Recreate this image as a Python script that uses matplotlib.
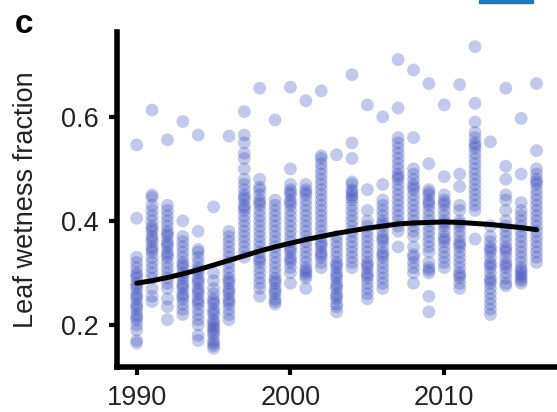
import matplotlib
matplotlib.use("Agg")
import matplotlib.pyplot as plt
from matplotlib.patches import Rectangle

plt.rcParams['font.family'] = ['Liberation Sans', 'DejaVu Sans']

lwf_1990 = [0.546, 0.405, 0.33, 0.32, 0.31, 0.30, 0.295, 0.29, 0.28, 0.275, 0.27, 0.26, 0.255, 0.25,
            0.24, 0.235, 0.23, 0.22, 0.215, 0.21, 0.20, 0.19, 0.17, 0.165]
lwf_1991 = [0.613, 0.45, 0.445, 0.43, 0.42, 0.41, 0.40, 0.39, 0.385, 0.38, 0.37, 0.365, 0.36, 0.35,
            0.345, 0.34, 0.33, 0.32, 0.31, 0.30, 0.29, 0.27, 0.255, 0.245]
lwf_1992 = [0.556, 0.43, 0.42, 0.41, 0.40, 0.39, 0.38, 0.375, 0.37, 0.36, 0.355, 0.35, 0.34, 0.335,
            0.33, 0.32, 0.31, 0.30, 0.29, 0.28, 0.27, 0.25, 0.235, 0.21]
lwf_1993 = [0.591, 0.40, 0.37, 0.36, 0.35, 0.34, 0.33, 0.32, 0.315, 0.31, 0.30, 0.295, 0.29, 0.28,
            0.275, 0.27, 0.26, 0.255, 0.25, 0.24, 0.23, 0.22]
lwf_1994 = [0.565, 0.38, 0.345, 0.34, 0.33, 0.32, 0.31, 0.305, 0.30, 0.29, 0.285, 0.28, 0.27, 0.265,
            0.26, 0.25, 0.245, 0.24, 0.23, 0.22, 0.21, 0.20, 0.18, 0.17]
lwf_1995 = [0.427, 0.30, 0.285, 0.27, 0.26, 0.25, 0.245, 0.24, 0.23, 0.225, 0.22, 0.21, 0.205, 0.20,
            0.195, 0.19, 0.185, 0.18, 0.17, 0.165, 0.16, 0.155]
lwf_1996 = [0.563, 0.38, 0.37, 0.36, 0.35, 0.34, 0.33, 0.32, 0.31, 0.30, 0.29, 0.285, 0.28, 0.27,
            0.265, 0.26, 0.25, 0.245, 0.24, 0.23, 0.22, 0.21]
lwf_1997 = [0.61, 0.565, 0.55, 0.53, 0.52, 0.50, 0.48, 0.47, 0.46, 0.45, 0.445, 0.44, 0.43, 0.425,
            0.42, 0.41, 0.40, 0.39, 0.38, 0.37, 0.36, 0.35, 0.34, 0.33]
lwf_1998 = [0.655, 0.48, 0.465, 0.46, 0.45, 0.44, 0.435, 0.43, 0.42, 0.41, 0.40, 0.39, 0.38, 0.37,
            0.36, 0.35, 0.34, 0.33, 0.325, 0.32, 0.31, 0.30, 0.29, 0.28, 0.27, 0.255]
lwf_1999 = [0.594, 0.44, 0.43, 0.42, 0.41, 0.40, 0.39, 0.38, 0.37, 0.36, 0.35, 0.34, 0.33, 0.32,
            0.31, 0.30, 0.29, 0.285, 0.28, 0.27, 0.265, 0.26, 0.25, 0.245, 0.24]
lwf_2000 = [0.657, 0.50, 0.47, 0.46, 0.455, 0.45, 0.44, 0.435, 0.43, 0.42, 0.41, 0.40, 0.39, 0.38,
            0.37, 0.36, 0.35, 0.345, 0.34, 0.33, 0.325, 0.32, 0.31, 0.30, 0.28]
lwf_2001 = [0.631, 0.47, 0.46, 0.455, 0.45, 0.44, 0.43, 0.42, 0.41, 0.40, 0.39, 0.38, 0.37, 0.36,
            0.35, 0.34, 0.33, 0.32, 0.31, 0.305, 0.30, 0.295, 0.29, 0.27]
lwf_2002 = [0.65, 0.525, 0.52, 0.51, 0.50, 0.49, 0.48, 0.47, 0.46, 0.45, 0.44, 0.43, 0.42, 0.41,
            0.40, 0.39, 0.38, 0.37, 0.36, 0.355, 0.35, 0.34, 0.335, 0.33, 0.32, 0.31]
lwf_2003 = [0.527, 0.37, 0.36, 0.35, 0.34, 0.33, 0.32, 0.315, 0.31, 0.30, 0.295, 0.29, 0.28, 0.275,
            0.27, 0.26, 0.255, 0.25, 0.24, 0.235, 0.225]
lwf_2004 = [0.681, 0.55, 0.52, 0.475, 0.47, 0.46, 0.455, 0.45, 0.445, 0.44, 0.43, 0.42, 0.41, 0.40,
            0.39, 0.38, 0.37, 0.36, 0.35, 0.34, 0.33, 0.32, 0.31]
lwf_2005 = [0.623, 0.46, 0.42, 0.40, 0.39, 0.38, 0.37, 0.36, 0.35, 0.34, 0.33, 0.32, 0.315, 0.31,
            0.30, 0.295, 0.29, 0.28, 0.27, 0.26, 0.25]
lwf_2006 = [0.60, 0.47, 0.44, 0.43, 0.42, 0.41, 0.40, 0.395, 0.39, 0.38, 0.37, 0.365, 0.36, 0.35,
            0.34, 0.335, 0.33, 0.32, 0.31, 0.30, 0.29, 0.28, 0.27]
lwf_2007 = [0.71, 0.617, 0.56, 0.55, 0.54, 0.53, 0.52, 0.51, 0.50, 0.49, 0.485, 0.48, 0.47, 0.46,
            0.45, 0.44, 0.43, 0.42, 0.41, 0.40, 0.39, 0.38, 0.35]
lwf_2008 = [0.69, 0.56, 0.50, 0.49, 0.48, 0.47, 0.465, 0.46, 0.45, 0.44, 0.43, 0.42, 0.41, 0.40,
            0.39, 0.38, 0.37, 0.35, 0.335, 0.33, 0.32, 0.31, 0.30, 0.28]
lwf_2009 = [0.664, 0.51, 0.46, 0.455, 0.45, 0.44, 0.435, 0.43, 0.42, 0.41, 0.40, 0.39, 0.38, 0.37,
            0.36, 0.35, 0.34, 0.32, 0.31, 0.305, 0.30, 0.255, 0.225]
lwf_2010 = [0.623, 0.485, 0.45, 0.44, 0.435, 0.43, 0.42, 0.41, 0.40, 0.395, 0.39, 0.38, 0.37, 0.365,
            0.36, 0.35, 0.34, 0.33, 0.32, 0.31]
lwf_2011 = [0.662, 0.49, 0.466, 0.43, 0.42, 0.40, 0.395, 0.39, 0.38, 0.37, 0.36, 0.355, 0.35, 0.34,
            0.33, 0.32, 0.31, 0.30, 0.295, 0.29, 0.28, 0.27]
lwf_2012 = [0.735, 0.626, 0.59, 0.57, 0.56, 0.55, 0.545, 0.54, 0.53, 0.52, 0.51, 0.50, 0.49, 0.48,
            0.47, 0.46, 0.45, 0.44, 0.43, 0.42, 0.365]
lwf_2013 = [0.552, 0.39, 0.37, 0.36, 0.35, 0.345, 0.34, 0.33, 0.32, 0.315, 0.31, 0.30, 0.29, 0.285,
            0.28, 0.27, 0.26, 0.25, 0.24, 0.23, 0.22]
lwf_2014 = [0.655, 0.505, 0.48, 0.45, 0.44, 0.42, 0.40, 0.39, 0.38, 0.37, 0.36, 0.35, 0.345, 0.34,
            0.33, 0.32, 0.315, 0.31, 0.30, 0.29, 0.28, 0.275]
lwf_2015 = [0.597, 0.49, 0.435, 0.42, 0.41, 0.40, 0.39, 0.38, 0.37, 0.36, 0.35, 0.34, 0.33, 0.32,
            0.31, 0.305, 0.30, 0.295, 0.29, 0.285, 0.28]
lwf_2016 = [0.664, 0.535, 0.50, 0.49, 0.48, 0.475, 0.47, 0.46, 0.45, 0.44, 0.43, 0.42, 0.41, 0.40,
            0.39, 0.38, 0.37, 0.36, 0.35, 0.34, 0.33, 0.32]

years = list(range(1990, 2017))
lwf_by_year = [lwf_1990, lwf_1991, lwf_1992, lwf_1993, lwf_1994, lwf_1995, lwf_1996, lwf_1997,
               lwf_1998, lwf_1999, lwf_2000, lwf_2001, lwf_2002, lwf_2003, lwf_2004, lwf_2005,
               lwf_2006, lwf_2007, lwf_2008, lwf_2009, lwf_2010, lwf_2011, lwf_2012, lwf_2013,
               lwf_2014, lwf_2015, lwf_2016]

# smoothed trend (black curve)
trend = [0.280, 0.285, 0.291, 0.298, 0.306, 0.315, 0.324, 0.333, 0.342, 0.350, 0.357, 0.364,
         0.370, 0.376, 0.381, 0.386, 0.390, 0.394, 0.396, 0.397, 0.398, 0.397, 0.395, 0.393,
         0.390, 0.387, 0.383]

xticks = [1990, 2000, 2010]
yticks = [0.2, 0.4, 0.6]

fig = plt.figure(figsize=(5.57, 4.12), dpi=100)
ax = fig.add_axes([0.21, 0.1092, 0.79, 0.813])

for yr, vals in zip(years, lwf_by_year):
    ax.scatter([yr] * len(vals), vals, s=85, color='#3a4cbc', alpha=0.3,
               edgecolors='none', zorder=2)

ax.plot(years, trend, color='black', lw=3.6, solid_capstyle='round', zorder=3)

ax.set_xlim(1988.72, 2017.33)
ax.set_ylim(0.119, 0.763)
ax.set_xticks(xticks)
ax.set_yticks(yticks)
ax.set_yticklabels(['0.2', '0.4', '0.6'])

for side in ['top', 'right']:
    ax.spines[side].set_visible(False)
for side in ['left', 'bottom']:
    ax.spines[side].set_linewidth(4)
ax.tick_params(width=3, length=6, labelsize=19.5, pad=7, colors='black', labelcolor='#222222')

ax.set_ylabel('Leaf wetness fraction', fontsize=19.5, labelpad=16, color='#222222')

fig.text(0.026, 0.94, 'c', fontsize=24, fontweight='bold', ha='left', va='center')
fig.patches.append(Rectangle((479 / 557, 1 - 3 / 412), 54 / 557, 3 / 412,
                             transform=fig.transFigure, color='#1a7ac4', zorder=5))

fig.savefig('out.png', dpi=100)
